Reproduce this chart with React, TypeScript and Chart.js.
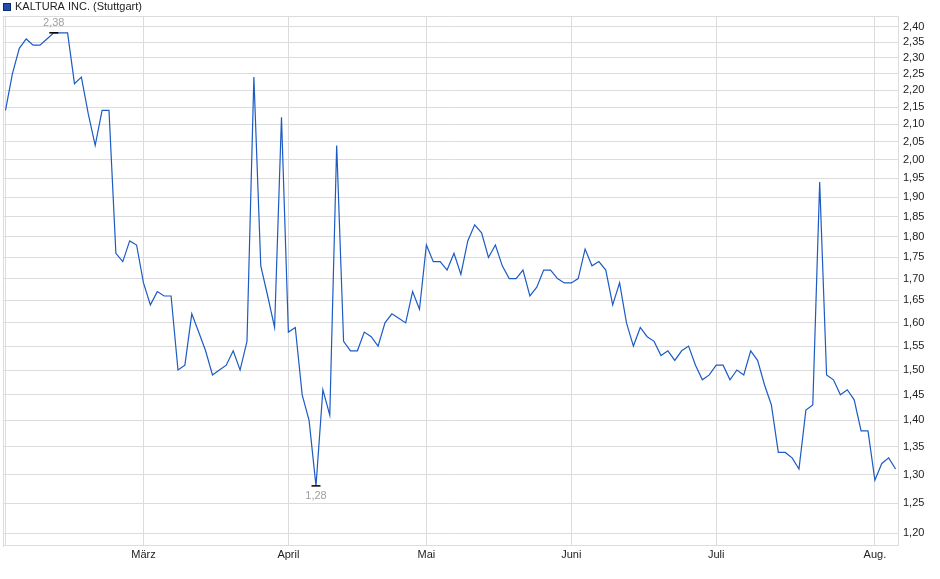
import React, { useEffect, useRef } from "react";
import { Chart, registerables } from "chart.js";

Chart.register(...registerables);

const seriesName = "KALTURA INC. (Stuttgart)";

const prices: number[] = [
  2.14, 2.25, 2.33, 2.36, 2.34, 2.34, 2.36, 2.38, 2.38, 2.38,
  2.22, 2.24, 2.13, 2.04, 2.14, 2.14, 1.76, 1.74, 1.79, 1.78,
  1.69, 1.64, 1.67, 1.66, 1.66, 1.5, 1.51, 1.62, 1.58, 1.54,
  1.49, 1.5, 1.51, 1.54, 1.5, 1.56, 2.24, 1.73, 1.66, 1.59,
  2.12, 1.58, 1.59, 1.45, 1.4, 1.28, 1.46, 1.41, 2.04, 1.56,
  1.54, 1.54, 1.58, 1.57, 1.55, 1.6, 1.62, 1.61, 1.6, 1.67,
  1.63, 1.78, 1.74, 1.74, 1.72, 1.76, 1.71, 1.79, 1.83, 1.81,
  1.75, 1.78, 1.73, 1.7, 1.7, 1.72, 1.66, 1.68, 1.72, 1.72,
  1.7, 1.69, 1.69, 1.7, 1.77, 1.73, 1.74, 1.72, 1.64, 1.69,
  1.6, 1.55, 1.59, 1.57, 1.56, 1.53, 1.54, 1.52, 1.54, 1.55,
  1.51, 1.48, 1.49, 1.51, 1.51, 1.48, 1.5, 1.49, 1.54, 1.52,
  1.47, 1.43, 1.34, 1.34, 1.33, 1.31, 1.42, 1.43, 1.94, 1.49,
  1.48, 1.45, 1.46, 1.44, 1.38, 1.38, 1.29, 1.32, 1.33, 1.31,
];

const monthLabels: string[] = ["März", "April", "Mai", "Juni", "Juli", "Aug."];
const monthStartIndex: number[] = [20, 41, 61, 82, 103, 126];

const yTickValues: number[] = [
  1.2, 1.25, 1.3, 1.35, 1.4, 1.45, 1.5, 1.55, 1.6, 1.65, 1.7, 1.75, 1.8,
  1.85, 1.9, 1.95, 2.0, 2.05, 2.1, 2.15, 2.2, 2.25, 2.3, 2.35, 2.4,
];

const FONT = "'Liberation Sans', Arial, sans-serif";
const LINE_COLOR = "#1c5bc4";
const GRID_COLOR = "#dcdcdc";

const fmt = (v: number) => v.toFixed(2).replace(".", ",");

const decorPlugin = {
  id: "decor",
  afterDraw(chart: any) {
    const { ctx, chartArea, scales } = chart;
    const xs = scales.x;
    const ys = scales.y;
    ctx.save();
    // top and left borders
    ctx.strokeStyle = GRID_COLOR;
    ctx.lineWidth = 1;
    ctx.beginPath();
    ctx.moveTo(chartArea.left, Math.round(chartArea.top) + 0.5);
    ctx.lineTo(chartArea.right, Math.round(chartArea.top) + 0.5);
    ctx.moveTo(Math.round(chartArea.left) + 0.5, chartArea.top);
    ctx.lineTo(Math.round(chartArea.left) + 0.5, chartArea.bottom + 2);
    ctx.stroke();

    // legend
    ctx.fillStyle = "#1a4fb5";
    ctx.fillRect(3, 3, 8, 8);
    ctx.strokeStyle = "#0d2b66";
    ctx.lineWidth = 1;
    ctx.strokeRect(3.5, 3.5, 7, 7);
    ctx.fillStyle = "#222";
    ctx.font = `11px ${FONT}`;
    ctx.textAlign = "left";
    ctx.textBaseline = "middle";
    ctx.fillText(seriesName, 15, 7);

    // max / min markers
    let maxI = 0;
    let minI = 0;
    prices.forEach((v, i) => {
      if (v > prices[maxI]) maxI = i;
      if (v < prices[minI]) minI = i;
    });
    const mark = (i: number, above: boolean) => {
      const px = xs.getPixelForValue(i);
      const py = ys.getPixelForValue(prices[i]);
      ctx.strokeStyle = "#000";
      ctx.lineWidth = 1.5;
      ctx.beginPath();
      ctx.moveTo(px - 4.5, py);
      ctx.lineTo(px + 4.5, py);
      ctx.stroke();
      ctx.fillStyle = "#a0a0a0";
      ctx.font = `11px ${FONT}`;
      ctx.textAlign = "center";
      ctx.textBaseline = "middle";
      ctx.fillText(fmt(prices[i]), px, above ? py - 9.5 : py + 10.5);
    };
    mark(maxI, true);
    mark(minI, false);
    ctx.restore();
  },
};

export default function App() {
  const ref = useRef<HTMLCanvasElement | null>(null);

  useEffect(() => {
    if (!ref.current) return;
    const chart = new Chart(ref.current, {
      type: "line",
      data: {
        datasets: [
          {
            label: seriesName,
            data: prices.map((v, i) => ({ x: i, y: v })),
            borderColor: LINE_COLOR,
            borderWidth: 1.2,
            pointRadius: 0,
            tension: 0,
            fill: false,
          },
        ],
      },
      options: {
        responsive: false,
        animation: false,
        layout: { padding: { left: 3, top: 16, right: 0, bottom: 0 } },
        plugins: { legend: { display: false }, tooltip: { enabled: false } },
        scales: {
          x: {
            type: "linear",
            min: -0.36,
            max: 129.35,
            afterBuildTicks: (s: any) => {
              s.ticks = [0, ...monthStartIndex].map((v) => ({ value: v }));
            },
            afterFit: (s: any) => {
              s.height = 34;
            },
            ticks: {
              autoSkip: false,
              maxRotation: 0,
              padding: 3,
              color: "#222",
              font: { family: FONT, size: 11 },
              callback: (v: any) => {
                const i = monthStartIndex.indexOf(Number(v));
                return i >= 0 ? monthLabels[i] : "";
              },
            },
            grid: { color: GRID_COLOR, drawTicks: false },
            border: { color: GRID_COLOR },
          },
          y: {
            type: "logarithmic",
            position: "right",
            min: 1.1805,
            max: 2.4354,
            afterBuildTicks: (s: any) => {
              s.ticks = yTickValues.map((v) => ({ value: v }));
            },
            afterFit: (s: any) => {
              s.width = 42;
            },
            ticks: {
              autoSkip: false,
              padding: 5,
              color: "#222",
              font: { family: FONT, size: 11 },
              callback: (v: any) => fmt(Number(v)),
            },
            grid: { color: GRID_COLOR, drawTicks: false },
            border: { color: GRID_COLOR },
          },
        },
      },
      plugins: [decorPlugin],
    } as any);
    return () => chart.destroy();
  }, []);

  return (
    <div style={{ position: "fixed", left: 0, top: 0, width: 940, height: 579, background: "#fff" }}>
      <canvas ref={ref} width={940} height={579} style={{ width: 940, height: 579, display: "block" }} />
    </div>
  );
}
